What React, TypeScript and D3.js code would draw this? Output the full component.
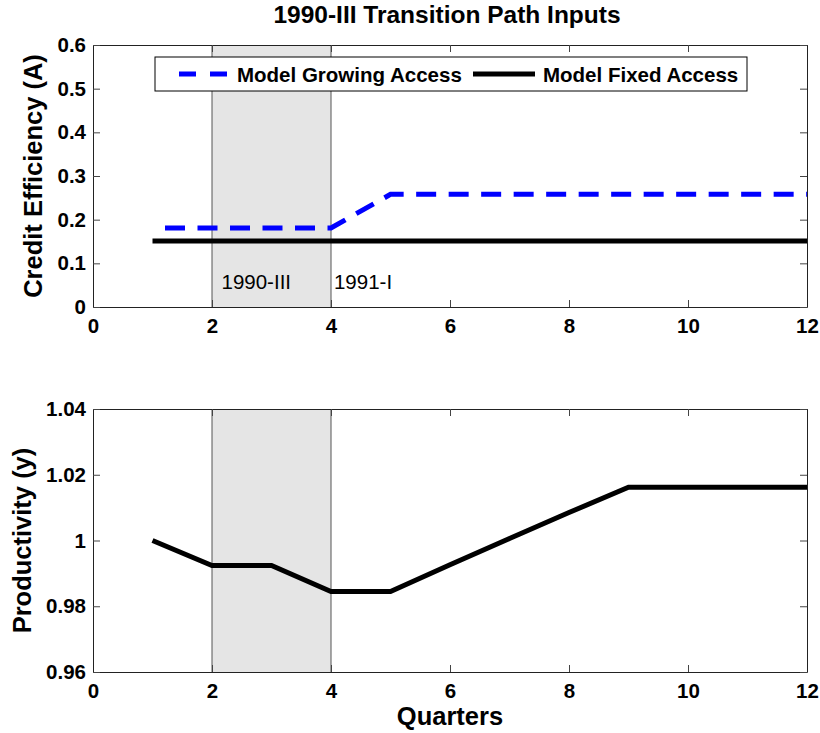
import React, { useEffect, useRef } from "react";
import * as d3 from "d3";

// quarters 1..12
const quarters = [1, 2, 3, 4, 5, 6, 7, 8, 9, 10, 11, 12];
const growingAccess = [0.181, 0.181, 0.181, 0.181, 0.258, 0.258, 0.258, 0.258, 0.258, 0.258, 0.258, 0.258];
const fixedAccess = [0.151, 0.151, 0.151, 0.151, 0.151, 0.151, 0.151, 0.151, 0.151, 0.151, 0.151, 0.151];
const productivity = [1.0, 0.9924, 0.9924, 0.9845, 0.9845, 0.9926, 1.0006, 1.0085, 1.0162, 1.0162, 1.0162, 1.0162];

const xTicks = [0, 2, 4, 6, 8, 10, 12];
const topTicks = [0, 0.1, 0.2, 0.3, 0.4, 0.5, 0.6];
const bottomTicks = [0.96, 0.98, 1, 1.02, 1.04];
const recession = [2, 4];
const labels = [
  { q: 2.16, text: "1990-III" },
  { q: 4.05, text: "1991-I" },
];

const FONT = "'Liberation Sans', Arial, Helvetica, sans-serif";
const W = 820;
const H = 733;
const left = 93;
const right = 807;

function drawPanel(g, y, yTicks, fmt) {
  const x = d3.scaleLinear().domain([0, 12]).range([left, right]);
  const [y0, y1] = y.range();

  g.append("rect")
    .attr("x", x(recession[0]))
    .attr("y", y1)
    .attr("width", x(recession[1]) - x(recession[0]))
    .attr("height", y0 - y1)
    .attr("fill", "#e5e5e5");

  recession.forEach((r) => {
    g.append("line")
      .attr("x1", x(r)).attr("x2", x(r))
      .attr("y1", y0).attr("y2", y1)
      .attr("stroke", "#555").attr("stroke-width", 1);
  });

  const bottom = g.append("g")
    .attr("transform", `translate(0,${y0})`)
    .call(d3.axisBottom(x).tickValues(xTicks).tickSizeInner(-7).tickSizeOuter(0).tickPadding(11).tickFormat(d3.format("d")));
  const top = g.append("g")
    .attr("transform", `translate(0,${y1})`)
    .call(d3.axisTop(x).tickValues(xTicks).tickSizeInner(-7).tickSizeOuter(0).tickFormat(() => ""));
  const lft = g.append("g")
    .attr("transform", `translate(${left},0)`)
    .call(d3.axisLeft(y).tickValues(yTicks).tickSizeInner(-7).tickSizeOuter(0).tickPadding(7).tickFormat(fmt));
  const rgt = g.append("g")
    .attr("transform", `translate(${right},0)`)
    .call(d3.axisRight(y).tickValues(yTicks).tickSizeInner(-7).tickSizeOuter(0).tickFormat(() => ""));

  [bottom, top, lft, rgt].forEach((a) => {
    a.selectAll("path").attr("stroke", "#222");
    a.selectAll("line").attr("stroke", "#444");
    a.selectAll("text")
      .attr("font-family", FONT)
      .attr("font-size", 20.5)
      .attr("font-weight", "bold")
      .attr("fill", "#000");
  });
  return x;
}

export default function App() {
  const ref = useRef(null);

  useEffect(() => {
    const svg = d3.select(ref.current);
    svg.selectAll("*").remove();

    // ---- top panel
    const yTop = d3.scaleLinear().domain([0, 0.6]).range([307, 45]);
    const gTop = svg.append("g");
    const x = drawPanel(gTop, yTop, topTicks, (d) => (d === 0 ? "0" : d3.format(".1f")(d)));

    labels.forEach((l) => {
      gTop.append("text")
        .attr("x", x(l.q))
        .attr("y", yTop(0.042))
        .attr("font-family", FONT)
        .attr("font-size", 20.5)
        .text(l.text);
    });

    const line = d3.line().x((d) => x(d[0])).y((d) => yTop(d[1]));

    gTop.append("path")
      .datum(quarters.map((q, i) => [q, fixedAccess[i]]))
      .attr("fill", "none")
      .attr("stroke", "#000")
      .attr("stroke-width", 5)
      .attr("d", line);

    gTop.append("path")
      .datum(quarters.map((q, i) => [q, growingAccess[i]]))
      .attr("fill", "none")
      .attr("stroke", "#0000ff")
      .attr("stroke-width", 5)
      .attr("stroke-dasharray", "20 12.5")
      .attr("stroke-dashoffset", 20)
      .attr("d", line);

    // legend
    const lg = gTop.append("g");
    lg.append("rect")
      .attr("x", 155).attr("y", 57)
      .attr("width", 592).attr("height", 34)
      .attr("fill", "#fff").attr("stroke", "#000").attr("stroke-width", 1);
    lg.append("line")
      .attr("x1", 179).attr("x2", 227).attr("y1", 74).attr("y2", 74)
      .attr("stroke", "#0000ff").attr("stroke-width", 5)
      .attr("stroke-dasharray", "17 14");
    lg.append("text")
      .attr("x", 237).attr("y", 81.5)
      .attr("font-family", FONT).attr("font-size", 20.5).attr("font-weight", "bold")
      .text("Model Growing Access");
    lg.append("line")
      .attr("x1", 473).attr("x2", 535).attr("y1", 74).attr("y2", 74)
      .attr("stroke", "#000").attr("stroke-width", 5);
    lg.append("text")
      .attr("x", 543).attr("y", 81.5)
      .attr("font-family", FONT).attr("font-size", 20.5).attr("font-weight", "bold")
      .text("Model Fixed Access");

    // ---- bottom panel
    const yBot = d3.scaleLinear().domain([0.96, 1.04]).range([672, 409]);
    const gBot = svg.append("g");
    drawPanel(gBot, yBot, bottomTicks, (d) => d3.format("")(+d.toFixed(2)));

    gBot.append("path")
      .datum(quarters.map((q, i) => [q, productivity[i]]))
      .attr("fill", "none")
      .attr("stroke", "#000")
      .attr("stroke-width", 5)
      .attr("d", d3.line().x((d) => x(d[0])).y((d) => yBot(d[1])));

    // titles
    svg.append("text")
      .attr("x", 447).attr("y", 23)
      .attr("text-anchor", "middle")
      .attr("font-family", FONT).attr("font-size", 24.5).attr("font-weight", "bold")
      .text("1990-III Transition Path Inputs");

    svg.append("text")
      .attr("transform", `translate(42,${(45 + 307) / 2}) rotate(-90)`)
      .attr("text-anchor", "middle")
      .attr("font-family", FONT).attr("font-size", 25.5).attr("font-weight", "bold")
      .text("Credit Efficiency (A)");

    svg.append("text")
      .attr("transform", `translate(31,${(409 + 672) / 2}) rotate(-90)`)
      .attr("text-anchor", "middle")
      .attr("font-family", FONT).attr("font-size", 25.5).attr("font-weight", "bold")
      .text("Productivity (y)");

    svg.append("text")
      .attr("x", 450).attr("y", 725)
      .attr("text-anchor", "middle")
      .attr("font-family", FONT).attr("font-size", 25.5).attr("font-weight", "bold")
      .text("Quarters");
  }, []);

  return (
    <div style={{ position: "absolute", left: 0, top: 0 }}>
      <svg ref={ref} width={W} height={H} style={{ display: "block", background: "#fff" }} />
    </div>
  );
}
